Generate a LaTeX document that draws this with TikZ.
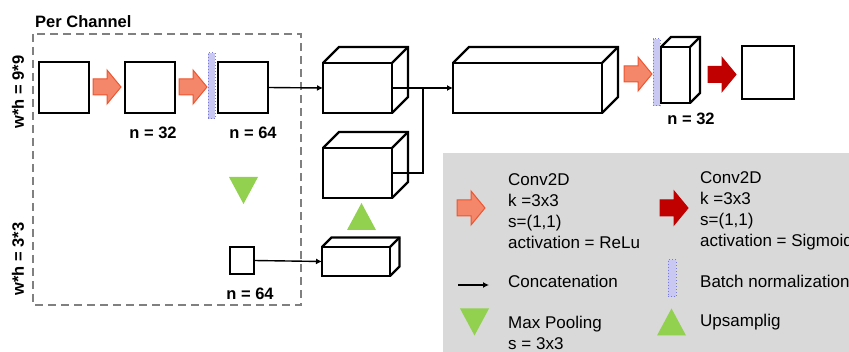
\documentclass[tikz,border=0pt]{standalone}
\usepackage{fontspec}
\setmainfont{Liberation Sans}
\usetikzlibrary{arrows.meta}

\definecolor{reluorange}{HTML}{F4866A}
\definecolor{reluedge}{HTML}{EE5530}
\definecolor{sigred}{HTML}{C00000}
\definecolor{poolgreen}{HTML}{92D050}
\definecolor{legendgray}{HTML}{D9D9D9}
\definecolor{bnfill}{HTML}{C8C8F2}
\definecolor{bnedge}{HTML}{7A7AD8}
\definecolor{framegray}{HTML}{808080}

\tikzset{
  fmap/.style={draw=black, line width=2.2pt, fill=white, inner sep=0pt, outer sep=0pt},
  depth/.style={draw=black, line width=2.2pt, line join=miter},
  link/.style={draw=black, line width=1.4pt},
  linkarrow/.style={link, -{Latex[length=6pt,width=6pt]}},
  bnorm/.style={draw=bnedge, fill=bnfill, dotted, line width=1pt, inner sep=0pt, outer sep=0pt},
  lbl/.style={font=\bfseries\fontsize{16.5}{19}\selectfont, inner sep=0pt},
  legtext/.style={font=\fontsize{17}{21}\selectfont, inner sep=0pt, align=left, anchor=west},
  relu/.style={fill=reluorange, draw=reluedge, line width=1pt},
  sigmoid/.style={fill=sigred, draw=sigred, line width=1pt},
  blockarrow/.pic={
    \path[pic actions] (0,-8) -- (14,-8) -- (14,-17) -- (28,0) -- (14,17) -- (14,8) -- (0,8) -- cycle;
  },
  pooltri/.pic={
    \fill[poolgreen] (-14.5,-13.5) -- (14.5,-13.5) -- (0,13.5) -- cycle;
  },
  uptri/.pic={
    \fill[poolgreen] (-14.5,13.5) -- (14.5,13.5) -- (0,-13.5) -- cycle;
  },
}

% draws the top and side faces behind a front-face node #1 with depth #2
\newcommand{\boxdepth}[2]{%
  \draw[depth] (#1.north west) -- ++(#2,-#2) -| ($(#1.south east)+(#2,-#2)$) -- (#1.south east);
  \draw[depth] (#1.north east) -- ++(#2,-#2);
}
\usetikzlibrary{calc}

\begin{document}
\begin{tikzpicture}[x=1pt, y=-1pt]
\useasboundingbox (0,0) rectangle (849,352);

% legend panel
\fill[legendgray] (443,153) rectangle (860,360);

% per-channel frame
\draw[framegray, line width=2pt, dash pattern=on 8pt off 5pt] (33,34) rectangle (301,305);
\node[lbl, anchor=west] (title) at (35,22) {Per Channel};
\node[lbl, rotate=90] (res9) at (18,92) {w*h = 9*9};
\node[lbl, rotate=90] (res3) at (18,259) {w*h = 3*3};

% 9x9 branch
\node[fmap, minimum width=50pt, minimum height=51pt] (in) at (64,87.5) {};
\node[fmap, minimum width=50pt, minimum height=51pt] (c32) at (150,87.5) {};
\node[bnorm, minimum width=7pt, minimum height=66pt] (bn1) at (211.5,86) {};
\node[fmap, minimum width=50pt, minimum height=51pt] (c64) at (243,87.5) {};
\pic[relu] at (93,87) {blockarrow};
\pic[relu] at (179,87) {blockarrow};
\node[lbl] (n32) at (153,133) {n = 32};
\node[lbl] (n64) at (253,133) {n = 64};

% max pooling to 3x3
\pic at (243.5,190.5) {pooltri};
\node[fmap, minimum width=24pt, minimum height=27pt] (small) at (242,260.5) {};
\node[lbl] (n64b) at (250,294) {n = 64};

% merged feature maps
\node[fmap, minimum width=69pt, minimum height=50pt] (cA) at (357.5,88) {};
\boxdepth{cA}{16}
\node[fmap, minimum width=69pt, minimum height=50pt] (cB) at (357.5,173) {};
\boxdepth{cB}{16}
\node[fmap, minimum width=68pt, minimum height=29pt] (cC) at (356,261.5) {};
\boxdepth{cC}{9.5}
\pic at (361.5,216.5) {uptri};

\node[fmap, minimum width=149pt, minimum height=50pt] (big) at (527.5,88) {};
\boxdepth{big}{16}

% concatenation links
\coordinate (jn) at (423,88);
\draw[linkarrow] (c64.east) -- (cA.west);
\draw[link] (cA.east) -- (jn);
\draw[linkarrow] (jn) -- (big.west);
\draw[link] (cB.east) -| (jn);
\draw[linkarrow] (small.east) -- (cC.west);

% output stage
\pic[relu] at (624,74) {blockarrow};
\node[bnorm, minimum width=7pt, minimum height=67pt] (bn2) at (656.5,72.5) {};
\node[fmap, minimum width=29pt, minimum height=56pt] (tall) at (675.5,75) {};
\boxdepth{tall}{10}
\node[lbl] (n32b) at (691,119) {n = 32};
\pic[sigmoid] at (708,74.5) {blockarrow};
\node[fmap, minimum width=52pt, minimum height=53pt] (out) at (768,72.5) {};

% legend
\pic[relu] at (457,208) {blockarrow};
\node[legtext] (lg1) at (508,211) {Conv2D\\k =3x3\\s=(1,1)\\activation = ReLu};
\pic[sigmoid] at (660,208) {blockarrow};
\node[legtext] (lg2) at (700,211) {Conv2D\\k =3x3\\s=(1,1)\\activation = Sigmoid};

\coordinate (catA) at (458,285);
\coordinate (catB) at (489,285);
\draw[linkarrow] (catA) -- (catB);
\node[legtext] (lg3) at (508,281) {Concatenation};
\node[bnorm, minimum width=8pt, minimum height=37pt] (bn3) at (672,278.5) {};
\node[legtext] (lg4) at (700,281) {Batch normalization};

\pic at (474.5,322) {pooltri};
\node[legtext] (lg5) at (508,333) {Max Pooling\\s = 3x3};
\pic at (671.5,322) {uptri};
\node[legtext] (lg6) at (700,322) {Upsamplig};
\end{tikzpicture}
\end{document}
